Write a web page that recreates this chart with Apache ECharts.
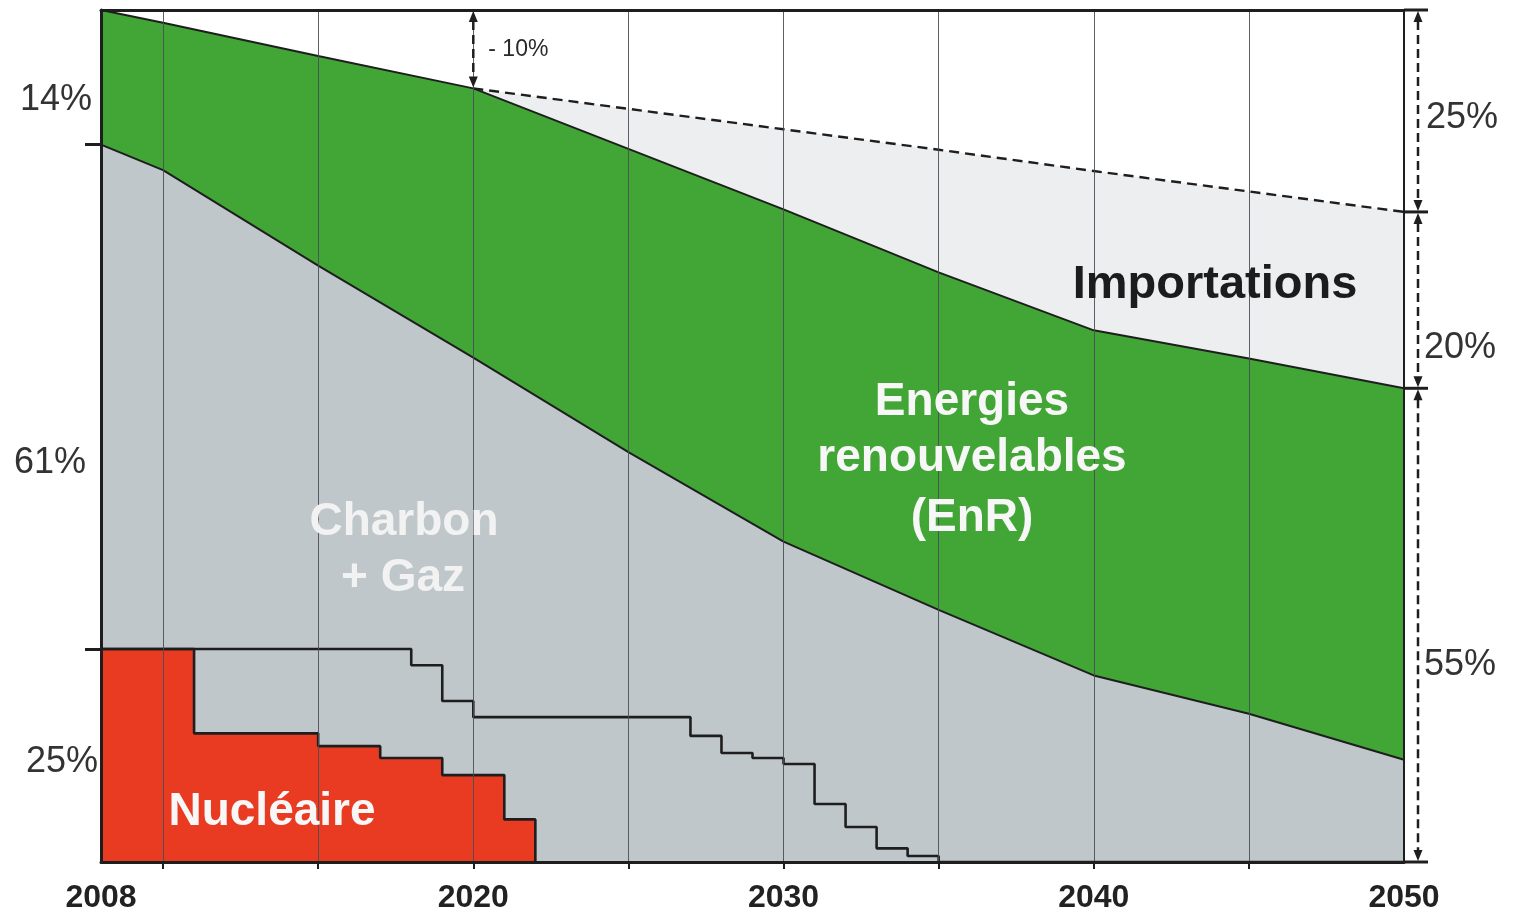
<!DOCTYPE html>
<html>
<head>
<meta charset="utf-8">
<script src="https://cdn.jsdelivr.net/npm/echarts@6/dist/echarts.min.js"></script>
<style>
html,body{margin:0;padding:0;background:#ffffff;}
#c{width:1517px;height:911px;}
</style>
</head>
<body>
<div id="c"></div>
<script>
// ---- data (percent of 2008 primary energy demand) ----
const years = [2008, 2010, 2015, 2020, 2025, 2030, 2035, 2040, 2045, 2050];
const demandeTotale = [100, 98.5, 94.6, 90.8, 88.4, 86.0, 83.6, 81.1, 78.7, 76.3];
const enrTop = [100, 98.5, 94.6, 90.8, 83.7, 76.6, 69.2, 62.4, 59.1, 55.6];
const charbonGazTop = [84.2, 81.2, 70.0, 59.2, 48.1, 37.6, 29.6, 21.9, 17.4, 12.0];
const nucleaireYears = [2008, 2011, 2015, 2017, 2019, 2021, 2022];
const nucleaireValues = [25, 15.1, 13.6, 12.2, 10.2, 5.0, 0];
const parcYears = [2008, 2018, 2019, 2020, 2027, 2028, 2029, 2030, 2031, 2032, 2033, 2034, 2035, 2050];
const parcValues = [25, 23.1, 18.9, 17.0, 14.8, 12.8, 12.2, 11.5, 6.8, 4.1, 1.6, 0.7, 0, 0];
const xLabelYears = [2008, 2020, 2030, 2040, 2050];
const gridYears = [2010, 2015, 2020, 2025, 2030, 2035, 2040, 2045];
const leftShareLabels = ['14%', '61%', '25%'];
const rightShareLabels = ['25%', '20%', '55%'];
const reductionLabel = '- 10%';
const areaNames = ['Importations', 'Energies', 'renouvelables', '(EnR)', 'Charbon', '+ Gaz', 'Nucléaire'];

const FONT = '"Liberation Sans", Arial, Helvetica, sans-serif';
const INK = '#1e1e1e';
const pairs = (xs, ys) => xs.map((x, i) => [x, ys[i]]);

const chart = echarts.init(document.getElementById('c'), null, {renderer: 'canvas'});

const option = {
  animation: false,
  backgroundColor: '#ffffff',
  grid: {left: 101, right: 113, top: 10, bottom: 49, containLabel: false, outerBoundsMode: 'none'},
  xAxis: [{
    type: 'value', min: 2008, max: 2050, z: 6,
    axisLine: {show: true, onZero: false, lineStyle: {color: INK, width: 3}},
    axisTick: {show: true, customValues: gridYears, length: 7, lineStyle: {color: INK, width: 2}},
    axisLabel: {customValues: xLabelYears, fontFamily: FONT, fontWeight: 'bold', fontSize: 32,
      color: '#222', margin: 20, formatter: v => String(v)},
    splitLine: {show: false}
  }, {
    type: 'value', position: 'top', min: 2008, max: 2050, z: 6,
    axisLine: {show: true, onZero: false, lineStyle: {color: INK, width: 3}},
    axisTick: {show: false}, axisLabel: {show: false}, splitLine: {show: false}
  }],
  yAxis: [{
    type: 'value', min: 0, max: 100, z: 6,
    axisLine: {show: true, onZero: false, lineStyle: {color: INK, width: 3}},
    axisTick: {show: true, customValues: [charbonGazTop[0], nucleaireValues[0]], length: 16,
      lineStyle: {color: INK, width: 3}},
    axisLabel: {show: false}, splitLine: {show: false}
  }, {
    type: 'value', position: 'right', min: 0, max: 100, z: 6,
    axisLine: {show: true, onZero: false, lineStyle: {color: INK, width: 2}},
    axisTick: {show: false}, axisLabel: {show: false}, splitLine: {show: false}
  }],
  series: [
    {
      name: 'Importations', type: 'line', data: pairs(years, demandeTotale),
      showSymbol: false, silent: true, lineStyle: {width: 0},
      areaStyle: {color: '#eceeef', opacity: 1}
    },
    {
      name: 'Demande', type: 'line',
      data: pairs(years, demandeTotale).filter(p => p[0] >= 2020),
      showSymbol: false, silent: true,
      lineStyle: {color: INK, width: 2.4, type: [10, 6]}
    },
    {
      name: 'Energies renouvelables', type: 'line', data: pairs(years, enrTop),
      showSymbol: false, silent: true,
      lineStyle: {color: INK, width: 2},
      areaStyle: {color: '#42a636', opacity: 1}
    },
    {
      name: 'Charbon + Gaz', type: 'line', data: pairs(years, charbonGazTop),
      showSymbol: false, silent: true,
      lineStyle: {color: INK, width: 2},
      areaStyle: {color: '#bfc7cb', opacity: 1}
    },
    {
      name: 'Nucléaire', type: 'line', step: 'end', data: pairs(nucleaireYears, nucleaireValues),
      showSymbol: false, silent: true,
      lineStyle: {color: INK, width: 2.6},
      areaStyle: {color: '#e93a22', opacity: 1}
    },
    {
      name: 'Parc nucléaire existant', type: 'line', step: 'end', data: pairs(parcYears, parcValues),
      showSymbol: false, silent: true,
      lineStyle: {color: INK, width: 2.6},
      markLine: {
        silent: true, symbol: 'none', animation: false,
        label: {show: false},
        lineStyle: {color: '#4a4f55', width: 1, type: 'solid', opacity: 0.9},
        data: gridYears.map(y => ({xAxis: y}))
      }
    }
  ]
};
chart.setOption(option);

// ---- annotations (text + dimension arrows) ----
const P = (x, y) => chart.convertToPixel({xAxisIndex: 0, yAxisIndex: 0}, [x, y]);
const G = [];
function txt(text, x, y, size, weight, color, align) {
  G.push({type: 'text', z: 20, x: x, y: y, silent: true,
    style: {text: text, fontSize: size, fontWeight: weight, fontFamily: FONT, fill: color,
      align: align || 'center', verticalAlign: 'middle'}});
}
function hline(x1, x2, y, w) {
  G.push({type: 'line', z: 15, silent: true, shape: {x1: x1, y1: y, x2: x2, y2: y},
    style: {stroke: INK, lineWidth: w}});
}
function dimArrow(x, yTop, yBot) {
  const hl = 12, hw = 4.5;
  G.push({type: 'line', z: 15, silent: true,
    shape: {x1: x, y1: yTop + hl - 1, x2: x, y2: yBot - hl + 1},
    style: {stroke: INK, lineWidth: 2.5, lineDash: [9, 5]}});
  G.push({type: 'polygon', z: 15, silent: true,
    shape: {points: [[x, yTop + 1], [x - hw, yTop + hl], [x + hw, yTop + hl]]}, style: {fill: INK}});
  G.push({type: 'polygon', z: 15, silent: true,
    shape: {points: [[x, yBot - 1], [x - hw, yBot - hl], [x + hw, yBot - hl]]}, style: {fill: INK}});
}

const last = years.length - 1;
const xEnd = P(2050, 0)[0];
const xR = xEnd + 14;
const yTop = P(2050, 100)[1];
const yDem = P(2050, demandeTotale[last])[1];
const yEnr = P(2050, enrTop[last])[1];
const yBot = P(2050, 0)[1];
[yTop, yDem, yEnr, yBot].forEach(y => hline(xEnd, xR + 10, y, 3));
dimArrow(xR, yTop, yDem);
dimArrow(xR, yDem, yEnr);
dimArrow(xR, yEnr, yBot);

const i2020 = years.indexOf(2020);
const p2020 = P(2020, demandeTotale[i2020]);
dimArrow(p2020[0], yTop, p2020[1]);
txt(reductionLabel, p2020[0] + 15, 50, 23, 'normal', '#2a2a2a', 'left');

// left shares
txt(leftShareLabels[0], 92, 100, 36, 'normal', '#333', 'right');
txt(leftShareLabels[1], 86, 463, 36, 'normal', '#333', 'right');
txt(leftShareLabels[2], 98, 762, 36, 'normal', '#333', 'right');
// right shares
txt(rightShareLabels[0], xR + 8, 118, 36, 'normal', '#333', 'left');
txt(rightShareLabels[1], xR + 6, 348, 36, 'normal', '#333', 'left');
txt(rightShareLabels[2], xR + 6, 665, 36, 'normal', '#333', 'left');

// area labels
txt(areaNames[0], 1215, 285, 47, 'bold', '#1c1c1c');
txt(areaNames[1], 972, 402, 46, 'bold', '#f7f7f7');
txt(areaNames[2], 972, 458, 46, 'bold', '#f7f7f7');
txt(areaNames[3], 972, 518, 46, 'bold', '#f7f7f7');
txt(areaNames[4], 404, 522, 46, 'bold', '#f2f2f2');
txt(areaNames[5], 403, 578, 46, 'bold', '#f2f2f2');
txt(areaNames[6], 272, 812, 46, 'bold', '#f7f7f7');

chart.setOption({graphic: G});
</script>
</body>
</html>
